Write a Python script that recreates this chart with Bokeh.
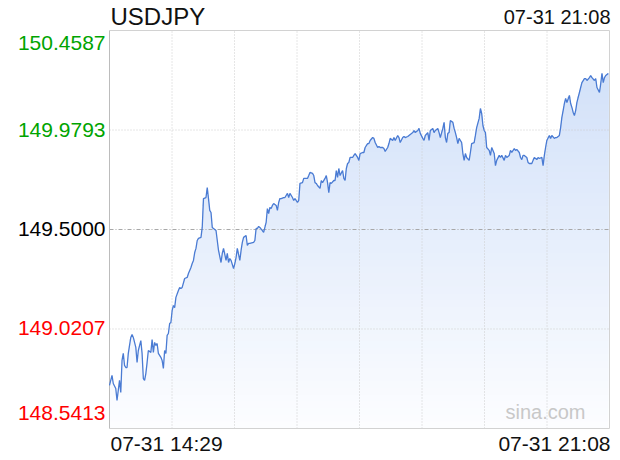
import numpy as np
from bokeh.plotting import figure
from bokeh.models import Range1d, Label
from bokeh.embed import file_html
from bokeh.resources import INLINE

# ---------------- data ----------------
symbol = "USDJPY"
start_label = "07-31 14:29"
end_label = "07-31 21:08"
session_minutes = 399          # 14:29 -> 21:08
prev_close = 149.5000
y_ticks = [148.5413, 149.0207, 149.5000, 149.9793, 150.4587]

minutes = [0, 2, 3, 5, 6, 7, 8, 9, 10, 11, 12, 13, 14, 15, 17, 18, 19, 21, 22, 23,
           25, 26, 27, 28, 29, 30, 31, 33, 34, 35, 36, 37, 38, 39, 41, 42, 43, 44, 45, 46,
           47, 48, 49, 50, 51, 52, 53, 55, 56, 57, 58, 60, 62, 63, 65, 66, 67, 68, 69, 70,
           71, 73,
           74, 75, 77, 78, 79, 80, 81, 82, 83, 85, 86, 87, 89, 90, 91, 93, 94, 95, 96, 97,
           99, 100, 101, 102, 104, 105, 106, 107, 109, 110, 111, 112, 115, 116, 117, 118, 119, 120, 122, 123,
           125, 126, 127, 128, 129, 130, 131, 133, 134, 135, 136, 137, 139, 140, 142, 143, 144, 146, 147, 148,
           150, 151, 152, 154, 155, 156,
           158, 159, 160, 162, 163, 164, 165, 166, 168, 169, 170, 172, 173, 174, 175, 176, 177, 179, 180, 181,
           182, 183, 184, 186, 187, 188, 189, 190, 191, 192, 194, 195, 196, 198, 199, 200, 202, 203, 204, 206,
           207, 208, 210, 211, 212, 214, 215, 216, 218, 219, 220, 222, 223, 224, 226, 227, 228, 230, 231, 232,
           234, 235, 236, 238, 239, 240,
           242, 243, 244, 246, 247, 248, 250, 251, 252, 254, 255, 256, 258, 259, 260, 262, 263, 264, 266, 267,
           268, 269, 270, 271, 272, 274, 275, 276, 277, 278, 279, 281, 282, 283, 284, 285, 287, 288, 289, 291,
           292, 293, 295, 296, 297, 298, 299, 300, 301, 303, 304, 305, 307, 308, 309, 311, 312, 313, 315, 316,
           317, 319, 320, 321, 323, 324, 325, 327, 328, 329, 330, 331, 333, 334, 335, 337, 338, 339, 341, 342,
           343, 345, 346, 347, 348, 349, 351, 352, 353, 355, 356, 357, 359, 360, 361, 362, 363, 364, 365, 367,
           368, 369, 370, 371, 372, 373, 375, 376, 377, 379, 380, 381, 383, 384, 385, 387, 388, 389, 391, 392,
           393, 394, 395, 396, 398]

prices = [148.749, 148.797, 148.758, 148.734, 148.676, 148.725, 148.773, 148.715, 148.869, 148.903,
          148.845, 148.835, 148.835, 148.903, 148.980, 148.994, 148.980, 148.932, 148.859, 148.917,
          148.965, 148.903, 148.782, 148.773, 148.806, 148.859, 148.917, 148.908, 148.970, 148.908,
          148.956, 148.941, 148.951, 148.903, 148.884, 148.869, 148.831, 148.917, 148.903, 148.990,
          148.999, 149.047, 149.052, 149.110, 149.134, 149.124, 149.173, 149.206, 149.221, 149.216,
          149.221, 149.264, 149.269, 149.288, 149.317, 149.336, 149.351, 149.389, 149.409, 149.447,
          149.457, 149.462,
          149.510, 149.649, 149.654, 149.702, 149.649, 149.592, 149.582, 149.510, 149.505, 149.495,
          149.447, 149.399, 149.341, 149.385, 149.409, 149.351, 149.385, 149.341, 149.360, 149.351,
          149.312, 149.336, 149.365, 149.409, 149.351, 149.399, 149.438, 149.462, 149.471, 149.423,
          149.433, 149.433, 149.438, 149.447, 149.505, 149.505, 149.515, 149.510, 149.495, 149.486,
          149.534, 149.601, 149.577, 149.606, 149.601, 149.616, 149.625, 149.616, 149.592, 149.630,
          149.649, 149.649, 149.654, 149.654, 149.674, 149.654, 149.674, 149.654, 149.640, 149.649,
          149.630, 149.640, 149.722, 149.726, 149.746, 149.746,
          149.746, 149.760, 149.775, 149.770, 149.760, 149.726, 149.722, 149.712, 149.698, 149.736,
          149.726, 149.746, 149.760, 149.726, 149.678, 149.726, 149.722, 149.736, 149.736, 149.784,
          149.751, 149.794, 149.760, 149.784, 149.746, 149.736, 149.794, 149.818, 149.823, 149.847,
          149.847, 149.857, 149.866, 149.847, 149.833, 149.866, 149.871, 149.871, 149.895, 149.914,
          149.914, 149.929, 149.943, 149.939, 149.919, 149.895, 149.900, 149.895, 149.895, 149.890,
          149.876, 149.895, 149.914, 149.939, 149.929, 149.943, 149.929, 149.953, 149.943, 149.919,
          149.943, 149.948, 149.943, 149.948, 149.953, 149.958,
          149.967, 149.977, 149.967, 149.977, 149.987, 149.963, 149.939, 149.929, 149.953, 149.967,
          149.929, 149.977, 149.987, 149.967, 149.977, 149.987, 149.967, 149.943, 149.987, 150.016,
          149.943, 149.919, 149.963, 149.967, 150.025, 150.016, 149.987, 149.967, 149.943, 149.914,
          149.939, 149.919, 149.866, 149.833, 149.866, 149.847, 149.833, 149.871, 149.914, 149.919,
          149.953, 149.991, 150.035, 150.083, 150.059, 150.001, 149.977, 149.967, 149.895, 149.881,
          149.857, 149.895, 149.866, 149.808, 149.833, 149.857, 149.847, 149.857, 149.833, 149.857,
          149.847, 149.857, 149.881, 149.871, 149.890, 149.881, 149.886, 149.871, 149.847, 149.837,
          149.857, 149.857, 149.847, 149.823, 149.818, 149.818, 149.833, 149.847, 149.837, 149.847,
          149.842, 149.847, 149.808, 149.857, 149.895, 149.929, 149.953, 149.939, 149.953, 149.939,
          149.943, 149.943, 149.953, 149.991, 150.040, 150.073, 150.107, 150.131, 150.112, 150.146,
          150.107, 150.088, 150.064, 150.049, 150.073, 150.112, 150.160, 150.184, 150.208, 150.227,
          150.227, 150.218, 150.232, 150.242, 150.232, 150.218, 150.227, 150.184, 150.160, 150.203,
          150.252, 150.208, 150.232, 150.242, 150.252]

n = min(len(minutes), len(prices))
xs = np.array(minutes[:n], dtype=float)
ys = np.array(prices[:n], dtype=float)

ymin, ymax = y_ticks[0], y_ticks[-1]
FONT = "Liberation Sans"

# ---------------- layout (pixels) ----------------
W, H = 614, 454
chart_left, chart_right, chart_top, chart_bottom = 109, 609, 30, 428
px_per_x = (chart_right - chart_left) / session_minutes
px_per_y = (chart_bottom - chart_top) / (ymax - ymin)
x0 = 0 - chart_left / px_per_x
x1 = session_minutes + (W - chart_right) / px_per_x
y1 = ymax + chart_top / px_per_y
y0 = ymin - (H - chart_bottom) / px_per_y

p = figure(width=W, height=H,
           x_range=Range1d(x0, x1), y_range=Range1d(y0, y1),
           x_axis_location=None, y_axis_location=None,
           toolbar_location=None, output_backend="svg",
           min_border=0, min_border_left=0, min_border_right=0,
           min_border_top=0, min_border_bottom=0)
p.grid.visible = False
p.outline_line_color = None
p.background_fill_color = "white"
p.border_fill_color = "white"

# gradient area under the line (vertical bands, top colour -> white)
top_rgb = np.array([206, 222, 248])
bot_rgb = np.array([252, 253, 255])
levels = np.linspace(ymin, ymax, 60)
for i, lv in enumerate(levels[:-1]):
    t = i / (len(levels) - 2)
    c = (bot_rgb + (top_rgb - bot_rgb) * t).round().astype(int)
    col = "#%02x%02x%02x" % tuple(c)
    p.varea(x=xs, y1=lv, y2=np.maximum(ys, lv), fill_color=col, fill_alpha=1.0)

# grid lines
gx = [session_minutes * k / 8 for k in range(1, 8)]
p.segment(x0=gx, y0=[ymin] * len(gx), x1=gx, y1=[ymax] * len(gx),
          line_color="#cccccc", line_width=1, line_dash="1 2")
for v in y_ticks[1:-1]:
    if v == prev_close:
        p.segment(x0=[0], y0=[v], x1=[session_minutes], y1=[v],
                  line_color="#a8a8a8", line_width=1, line_dash="4 2 1 2")
    else:
        p.segment(x0=[0], y0=[v], x1=[session_minutes], y1=[v],
                  line_color="#cccccc", line_width=1, line_dash="1 2")

# chart border
p.segment(x0=[0, session_minutes, 0], y0=[ymax, ymin, ymin],
          x1=[session_minutes, session_minutes, session_minutes], y1=[ymax, ymax, ymin],
          line_color="#d2d2d2", line_width=1)
p.segment(x0=[0], y0=[ymin], x1=[0], y1=[ymax], line_color="#bcbcbc", line_width=1)

# price line
p.line(xs, ys, line_color="#4a7bd3", line_width=1.3)

# y labels
for i, v in enumerate(y_ticks):
    if v > prev_close:
        col = "#00a400"
    elif v < prev_close:
        col = "#ff0000"
    else:
        col = "#000000"
    if i == len(y_ticks) - 1:
        off = -12
    elif i == 0:
        off = 16
    else:
        off = 0.5
    p.add_layout(Label(x=0, y=v, text=f"{v:.4f}", x_offset=-4, y_offset=off,
                       text_align="right", text_baseline="alphabetic",
                       text_font=FONT, text_font_size="21px", text_color=col))

# title and times
p.add_layout(Label(x=0, y=ymax, text=symbol, x_offset=1, y_offset=14,
                   text_align="left", text_baseline="alphabetic",
                   text_font=FONT, text_font_size="24px", text_color="#111111"))
p.add_layout(Label(x=session_minutes, y=ymax, text=end_label, x_offset=1, y_offset=14,
                   text_align="right", text_baseline="alphabetic",
                   text_font=FONT, text_font_size="20px", text_color="#111111"))
p.add_layout(Label(x=0, y=ymin, text=start_label, x_offset=1, y_offset=-15,
                   text_align="left", text_baseline="alphabetic",
                   text_font=FONT, text_font_size="21px", text_color="#111111"))
p.add_layout(Label(x=session_minutes, y=ymin, text=end_label, x_offset=1, y_offset=-15,
                   text_align="right", text_baseline="alphabetic",
                   text_font=FONT, text_font_size="21px", text_color="#111111"))
p.add_layout(Label(x=session_minutes, y=ymin, text="sina.com", x_offset=-24, y_offset=17,
                   text_align="right", text_baseline="alphabetic",
                   text_font=FONT, text_font_size="20px", text_color="#c8c8c8"))

open("out.html", "w").write(file_html(p, INLINE))
